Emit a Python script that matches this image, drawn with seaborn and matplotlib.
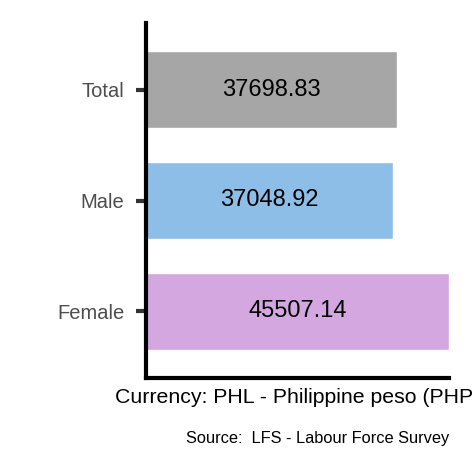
import matplotlib
matplotlib.use("Agg")
import matplotlib.pyplot as plt
import pandas as pd
import seaborn as sns

# data
groups = ["Total", "Male", "Female"]
earnings = [37698.83, 37048.92, 45507.14]
bar_colors = ["#A6A6A6", "#8CBEE8", "#D5A7E1"]

x_label = "Currency: PHL - Philippine peso (PHP)"
source_note = "Source:  LFS - Labour Force Survey"

df = pd.DataFrame({"group": groups, "value": earnings})

sns.set_theme(style="white")
plt.rcParams["font.family"] = ["Liberation Sans", "DejaVu Sans"]

fig = plt.figure(figsize=(4.72, 4.72), dpi=100)
ax = fig.add_axes([146 / 472, 1 - 378 / 472, 303 / 472, 355 / 472])

sns.barplot(data=df, x="value", y="group", hue="group", palette=bar_colors,
            order=groups, hue_order=groups, width=0.69, legend=False,
            saturation=1, ax=ax)

# value labels in the middle of each bar
for i, v in enumerate(earnings):
    ax.text(v / 2, i, f"{v:.2f}", ha="center", va="center",
            fontsize=17, color="black")

ax.set_xlim(0, max(earnings))
ax.set_ylim(2.6, -0.6)
ax.set_xticks([])
ax.set_ylabel("")
# centred under the axis like the original, the closing bracket runs off the edge
ax.set_xlabel(x_label, fontsize=15.3, color="black", labelpad=7)
ax.tick_params(axis="y", left=True, length=7.5, width=3, color="#333333",
               labelsize=14.5, labelcolor="#4D4D4D", pad=8)

sns.despine(ax=ax, top=True, right=True)
for side in ["left", "bottom"]:
    ax.spines[side].set_linewidth(3)
    ax.spines[side].set_color("black")

fig.text(449 / 472, 1 - 439 / 472, source_note, ha="right", va="center",
         fontsize=11.8, color="black")

fig.savefig("out.png", dpi=100)
